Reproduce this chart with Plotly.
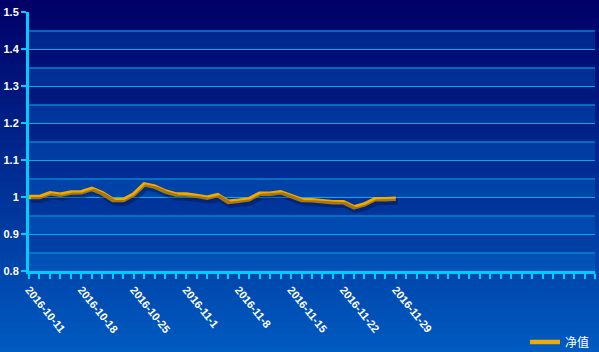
import plotly.graph_objects as go

dates = ["2016-10-11", "2016-10-12", "2016-10-13", "2016-10-14",
         "2016-10-17", "2016-10-18", "2016-10-19", "2016-10-20", "2016-10-21",
         "2016-10-24", "2016-10-25", "2016-10-26", "2016-10-27", "2016-10-28",
         "2016-10-31", "2016-11-1", "2016-11-2", "2016-11-3", "2016-11-4",
         "2016-11-7", "2016-11-8", "2016-11-9", "2016-11-10", "2016-11-11",
         "2016-11-14", "2016-11-15", "2016-11-16", "2016-11-17", "2016-11-18",
         "2016-11-21", "2016-11-22", "2016-11-23", "2016-11-24", "2016-11-25",
         "2016-11-28", "2016-11-29"]
nav = [1.000, 1.000, 1.010, 1.006, 1.012, 1.013, 1.022, 1.010, 0.992,
       0.992, 1.007, 1.034, 1.028, 1.015, 1.007, 1.007, 1.003, 0.998,
       1.005, 0.987, 0.990, 0.994, 1.009, 1.009, 1.013, 1.003, 0.992,
       0.991, 0.988, 0.986, 0.986, 0.972, 0.980, 0.994, 0.994, 0.995]
n_slots = 55
label_every = 5
series_name = "净值"

W, H = 599, 352
L, R, T, B = 29, 4, 12, 81
plot_h = H - T - B
plot_w = W - L - R

xs = list(range(len(nav)))
tickvals = list(range(n_slots))
ticktext = [dates[i] if (i < len(dates) and i % label_every == 0) else "" for i in tickvals]

fig = go.Figure()

xr = [0, n_slots - 1]
yr = [0.8, 1.5]
dxu = (xr[1] - xr[0]) / plot_w
dyu = (yr[1] - yr[0]) / plot_h
# soft shadow of the line (secondary axes shifted a few pixels)
fig.add_trace(go.Scatter(x=xs, y=nav, mode="lines", xaxis="x2", yaxis="y2",
                         line=dict(color="rgba(0,0,40,0.3)", width=6),
                         hoverinfo="skip", showlegend=False))
fig.add_trace(go.Scatter(x=xs, y=nav, mode="lines", name=series_name,
                         line=dict(color="#f2aa00", width=4.5)))

shapes = []
top = (0, 0, 102)
bot = (0, 90, 192)
steps = 60
for i in range(steps):
    f = i / (steps - 1)
    c = tuple(int(round(top[k] + (bot[k] - top[k]) * f)) for k in range(3))
    y_top_px = i * H / steps - 1
    y_bot_px = (i + 1) * H / steps + 1
    y1 = (H - B - y_top_px) / plot_h
    y0 = (H - B - y_bot_px) / plot_h
    shapes.append(dict(type="rect", xref="paper", yref="paper",
                       x0=-L / plot_w - 0.01, x1=1 + R / plot_w + 0.01,
                       y0=y0, y1=y1, line=dict(width=0),
                       fillcolor="rgb(%d,%d,%d)" % c, layer="below"))
for k in range(7):
    lo = 0.8 + 0.1 * k
    shapes.append(dict(type="rect", xref="paper", yref="y", x0=0, x1=1,
                       y0=lo, y1=lo + 0.05, line=dict(width=0),
                       fillcolor="rgba(0,120,220,0.28)", layer="below"))
fig.update_layout(shapes=shapes)

tick_font = dict(color="white", size=11, family="Arial, Liberation Sans, sans-serif",
                 weight="bold")

fig.update_layout(
    width=W, height=H,
    margin=dict(l=L, r=R, t=T, b=B, autoexpand=False),
    paper_bgcolor="#0058be",
    plot_bgcolor="rgba(0,0,0,0)",
    font=dict(family="Arial, Liberation Sans, sans-serif", color="white", size=11),
    xaxis=dict(range=xr, tickvals=tickvals, ticktext=ticktext, tickangle=51,
               automargin=False,
               showgrid=False, zeroline=False, showline=True, linecolor="#00ccff",
               linewidth=3, ticks="outside", ticklen=5, tickwidth=2, tickcolor="#00ccff",
               tickfont=tick_font),
    yaxis=dict(range=yr, dtick=0.1, showgrid=True, gridcolor="#00aaee",
               automargin=False,
               gridwidth=1, zeroline=False, showline=True, linecolor="#00ccff",
               linewidth=3, ticks="outside", ticklen=5, tickwidth=2, tickcolor="#00ccff",
               tickfont=tick_font,
               minor=dict(dtick=0.05, showgrid=True, gridcolor="rgba(0,130,210,0.75)",
                          gridwidth=2)),
    xaxis2=dict(range=[xr[0] - 2 * dxu, xr[1] - 2 * dxu], overlaying="x", visible=False),
    yaxis2=dict(range=[yr[0] + 3 * dyu, yr[1] + 3 * dyu], overlaying="y", visible=False),
    legend=dict(x=1, xanchor="right", y=-71 / plot_h, yanchor="middle",
                bgcolor="rgba(0,0,0,0)", font=dict(color="white", size=12,
                family="Noto Sans CJK SC, sans-serif")),
    showlegend=True,
)

fig.write_html("out.html")
